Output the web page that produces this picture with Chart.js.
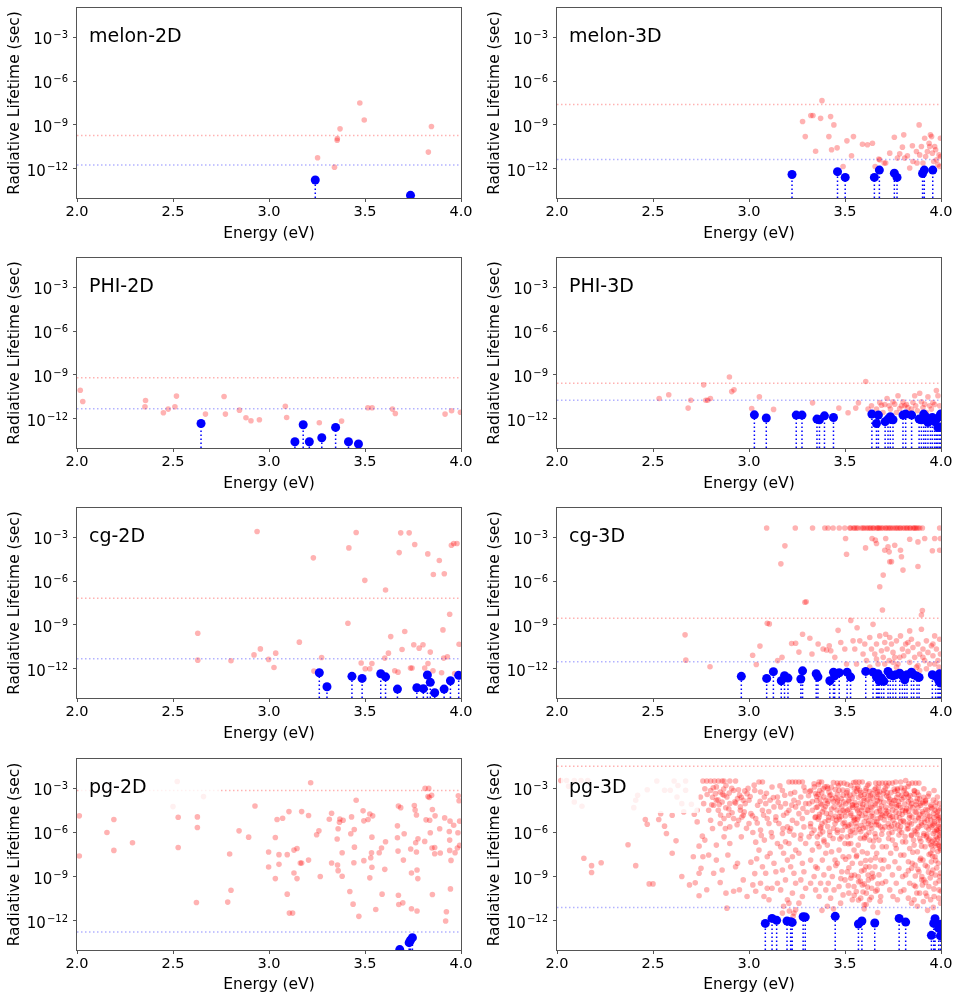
<!DOCTYPE html>
<html>
<head>
<meta charset="utf-8">
<script src="https://cdn.jsdelivr.net/npm/chart.js@4.4.1/dist/chart.umd.min.js"></script>
<style>
  body { margin: 0; background: #fff; width: 962px; height: 1001px; position: relative; overflow: hidden; }
  .cell { position: absolute; }
</style>
</head>
<body>
<script>
// values as log10(lifetime / s); energies in eV
const panelNames = ['melon-2D', 'melon-3D', 'PHI-2D', 'PHI-3D', 'cg-2D', 'cg-3D', 'pg-2D', 'pg-3D'];
const redLineLog  = [-9.73, -7.61, -9.20, -9.57, -7.18, -8.55, -3.14, -1.49];
const blueLineLog = [-11.75, -11.36, -11.32, -10.73, -11.32, -11.52, -12.77, -11.10];
const xTicks = [2.0, 2.5, 3.0, 3.5, 4.0];
const yTicks = [1e-12, 1e-9, 1e-6, 1e-3];
const yMin = 1e-14, yMax = 1e-1;

const melon2dRed = [[3.253,-11.25],[3.341,-11.89],[3.355,-10.05],[3.356,-9.93],[3.37,-9.27],[3.473,-7.5],[3.496,-8.66],[3.83,-10.86],[3.846,-9.11]];
const melon2dBlue = [[3.241,-12.77],[3.737,-13.82]];

const melon3dRed = [[3.279,-8.77],[3.293,-9.80],[3.322,-8.36],[3.333,-8.36],[3.347,-10.80],[3.373,-8.55],[3.38,-7.34],[3.416,-9.80],[3.425,-8.43],[3.43,-10.70],[3.442,-9.0],[3.459,-10.57],[3.49,-11.84],[3.51,-10.09],[3.534,-11.11],[3.544,-9.80],[3.591,-10.32],[3.617,-10.36],[3.643,-10.25],[3.657,-11.84],[3.676,-11.34],[3.681,-11.39],[3.704,-11.61],[3.712,-11.61],[3.733,-10.93],[3.757,-9.84],[3.773,-11.27],[3.785,-10.98],[3.799,-10.52],[3.806,-9.68],[3.811,-11.27],[3.825,-11.11],[3.837,-11.95],[3.851,-10.43],[3.854,-11.5],[3.872,-10.82],[3.875,-11.61],[3.886,-9.0],[3.889,-11.05],[3.898,-10.48],[3.906,-11.61],[3.915,-9.91],[3.92,-11.16],[3.929,-10.82],[3.938,-10.25],[3.941,-10.48],[3.945,-9.68],[3.951,-9.80],[3.955,-10.93],[3.962,-11.5],[3.967,-10.48],[3.972,-10.70],[3.977,-11.39],[3.984,-11.73],[3.99,-11.05],[3.993,-11.84],[3.997,-9.91],[3.998,-11.16]];
const melon3dBlue = [[3.224,-12.39],[3.461,-12.20],[3.501,-12.59],[3.653,-12.59],[3.679,-12.09],[3.757,-12.30],[3.771,-12.59],[3.904,-12.32],[3.913,-12.09],[3.957,-12.09]];

const phi2dRed = [[2.017,-10.05],[2.03,-10.82],[2.354,-11.18],[2.357,-10.75],[2.45,-11.59],[2.475,-11.34],[2.51,-11.18],[2.518,-10.45],[2.669,-11.68],[2.766,-10.48],[2.773,-11.68],[2.846,-11.41],[2.88,-11.93],[2.906,-12.14],[2.95,-12.07],[3.085,-11.14],[3.092,-11.91],[3.262,-12.27],[3.378,-12.16],[3.515,-11.25],[3.537,-11.25],[3.643,-11.34],[3.658,-11.64],[3.917,-11.68],[3.951,-11.45],[3.997,-11.55]];
const phi2dBlue = [[2.646,-12.32],[3.135,-13.57],[3.178,-12.41],[3.21,-13.57],[3.275,-13.30],[3.347,-12.59],[3.414,-13.57],[3.466,-13.73]];

const phi3dRed = [[2.532,-10.61],[2.582,-10.36],[2.683,-11.27],[2.697,-10.73],[2.764,-9.68],[2.775,-10.73],[2.785,-10.73],[2.799,-10.61],[2.898,-9.14],[2.91,-10.14],[2.922,-10.02],[3.014,-11.30],[3.054,-10.5],[3.128,-11.36],[3.331,-10.91],[3.468,-11.27],[3.516,-11.59],[3.556,-11.27],[3.57,-10.91],[3.608,-9.45],
  [3.62,-11.34],[3.638,-11.11],[3.664,-11.34],[3.681,-10.89],[3.69,-11.07],[3.698,-11.57],[3.707,-11.02],[3.719,-10.61],[3.73,-11.11],[3.737,-11.34],[3.75,-10.84],[3.759,-11.0],[3.768,-11.57],[3.776,-10.43],[3.785,-11.3],[3.794,-11.11],[3.802,-10.84],[3.811,-11.11],[3.82,-11.02],[3.828,-11.23],[3.837,-11.57],[3.846,-11.34],[3.854,-10.89],[3.863,-10.43],[3.868,-11.11],[3.877,-11.45],[3.889,-10.25],[3.898,-10.84],[3.906,-11.23],[3.915,-11.0],[3.924,-11.57],[3.932,-10.5],[3.941,-11.11],[3.95,-11.34],[3.958,-10.89],[3.967,-11.02],[3.976,-10.07],[3.984,-10.43],[3.993,-11.11],[3.998,-11.57]];
const phi3dBlue = [[3.028,-11.73],[3.09,-11.95],[3.246,-11.75],[3.276,-11.75],[3.354,-12.02],[3.367,-12.07],[3.393,-11.80],[3.44,-11.91],[3.64,-11.68],[3.664,-12.32],[3.674,-11.75],[3.709,-12.2],[3.724,-12.02],[3.736,-11.86],[3.75,-12.07],[3.802,-11.75],[3.816,-11.68],[3.847,-11.75],[3.886,-12.02],[3.898,-12.07],[3.91,-11.68],[3.92,-11.86],[3.932,-12.25],[3.945,-12.07],[3.955,-11.91],[3.967,-12.2],[3.976,-12.02],[3.984,-12.59],[3.993,-11.86],[3.998,-11.68]];

const cg2dRed = [[2.938,-2.61],[2.629,-9.57],[2.629,-11.41],[2.802,-11.45],[2.922,-11.05],[2.955,-10.64],[2.998,-11.36],[3.026,-11.91],[3.035,-10.93],[3.158,-10.18],[3.231,-4.41],[3.234,-12.16],[3.274,-11.23],[3.411,-8.89],[3.416,-3.73],[3.454,-2.68],[3.48,-11.61],[3.499,-5.95],[3.501,-12.0],[3.525,-12.0],[3.536,-11.64],[3.603,-11.27],[3.607,-6.61],[3.622,-10.93],[3.634,-9.80],[3.655,-12.14],[3.672,-12.23],[3.678,-4.05],[3.686,-2.70],[3.693,-10.68],[3.707,-9.45],[3.73,-2.70],[3.737,-11.95],[3.745,-11.95],[3.754,-10.36],[3.759,-3.5],[3.782,-10.59],[3.802,-10.36],[3.811,-11.95],[3.827,-4.14],[3.828,-11.64],[3.84,-10.86],[3.854,-12.14],[3.856,-5.55],[3.887,-4.59],[3.899,-12.27],[3.906,-9.34],[3.913,-5.5],[3.91,-11.27],[3.929,-11.18],[3.941,-8.27],[3.95,-3.55],[3.962,-3.43],[3.967,-12.32],[3.979,-3.43],[3.99,-10.32]];
const cg2dBlue = [[3.262,-12.27],[3.302,-13.23],[3.432,-12.52],[3.485,-12.66],[3.582,-12.34],[3.607,-12.55],[3.669,-13.39],[3.77,-13.30],[3.804,-13.36],[3.825,-12.43],[3.84,-12.93],[3.863,-13.64],[3.912,-13.39],[3.945,-12.82],[3.988,-12.45]];

const cg3dRed = [[3.092,-2.37],[3.241,-2.37],[3.331,-2.37],[3.395,-2.37],[3.412,-2.37],[3.438,-2.37],[3.47,-2.37],[3.499,-2.37],[3.525,-2.37],[3.551,-2.37],[3.568,-2.37],[3.594,-2.37],[3.612,-2.37],[3.629,-2.37],[3.646,-2.37],[3.664,-2.37],[3.681,-2.37],[3.698,-2.37],[3.716,-2.37],[3.733,-2.37],[3.75,-2.37],[3.768,-2.37],[3.785,-2.37],[3.802,-2.37],[3.82,-2.37],[3.837,-2.37],[3.854,-2.37],[3.872,-2.37],[3.889,-2.37],[3.903,-2.37],[3.993,-2.37],
  [3.53,-2.37],[3.56,-2.37],[3.60,-2.37],[3.62,-2.37],[3.65,-2.37],[3.67,-2.37],[3.69,-2.37],[3.71,-2.37],[3.74,-2.37],[3.76,-2.37],[3.79,-2.37],[3.81,-2.37],[3.84,-2.37],[3.86,-2.37],[3.88,-2.37],
  [3.545,-2.37],[3.585,-2.37],[3.635,-2.37],[3.675,-2.37],[3.725,-2.37],[3.775,-2.37],[3.825,-2.37],[3.865,-2.37],
  [3.503,-3.09],[3.508,-4.16],[3.607,-3.73],[3.641,-3.09],[3.658,-3.2],[3.664,-3.43],[3.707,-3.89],[3.712,-3.09],[3.724,-3.66],[3.733,-4.68],[3.759,-3.55],[3.789,-3.89],[3.802,-5.25],[3.794,-4.34],[3.837,-3.14],[3.88,-5.0],[3.88,-3.32],[3.915,-3.09],[3.955,-3.93],[3.967,-3.09],[3.993,-3.89],[3.997,-3.09],[3.187,-3.59],[3.166,-4.82],[3.106,-8.93],[3.291,-7.45],[3.298,-7.41],[3.681,-6.39],[3.695,-7.98],[3.699,-5.59],[3.903,-8.02],[3.898,-8.32],[3.73,-4.0],[3.742,-4.67],
  [2.667,-9.68],[2.671,-11.41],[2.797,-11.86],[3.095,-8.89],[3.019,-11.08],[3.057,-10.45],[3.038,-11.71],[3.149,-11.44],[3.172,-11.22],[3.222,-10.27],[3.243,-10.25],[3.26,-10.86],[3.279,-9.64],[3.317,-9.91],[3.328,-10.99],[3.36,-10.31],[3.386,-10.65],[3.404,-10.72],[3.418,-10.43],[3.426,-10.77],[3.447,-11.22],[3.464,-9.37],[3.478,-10.2],[3.499,-10.65],[3.508,-11.67],[3.53,-8.69],[3.542,-10.09],[3.551,-10.65],[3.563,-9.19],[3.577,-10.09],[3.594,-10.99],[3.603,-10.31],[3.612,-11.44],[3.629,-9.86],[3.638,-10.65],[3.646,-8.96],[3.655,-10.99],[3.664,-10.31],[3.672,-11.67],[3.681,-9.75],[3.69,-10.77],[3.699,-11.22],[3.707,-10.2],[3.712,-9.64],[3.719,-10.65],[3.73,-11.44],[3.742,-10.31],[3.75,-10.88],[3.759,-11.22],[3.768,-10.09],[3.776,-11.67],[3.789,-9.75],[3.799,-10.65],[3.806,-11.11],[3.816,-10.31],[3.828,-10.81],[3.837,-11.56],[3.846,-9.98],[3.854,-10.54],[3.863,-11.22],[3.872,-11.89],[3.88,-10.31],[3.889,-10.99],[3.898,-9.3],[3.906,-10.65],[3.915,-11.44],[3.924,-10.09],[3.932,-10.88],[3.941,-11.67],[3.95,-10.43],[3.958,-11.11],[3.967,-9.75],[3.976,-10.65],[3.984,-11.44],[3.993,-9.98],[3.997,-10.99],[3.99,-11.89],
  [3.56,-11.67],[3.629,-11.89],[3.664,-11.33],[3.768,-11.89],[3.889,-12.12],[3.785,-11.22],[3.733,-9.86],[3.837,-9.41],[3.75,-11.56],[3.88,-11.78],[3.924,-12.0],[3.958,-10.31],[3.707,-11.67],[3.828,-10.2],[3.906,-11.22],[3.967,-11.67]];
const cg3dBlue = [[2.96,-12.52],[3.092,-12.66],[3.127,-12.2],[3.168,-12.82],[3.185,-12.48],[3.203,-12.64],[3.27,-12.7],[3.279,-12.14],[3.35,-12.34],[3.359,-12.55],[3.421,-12.82],[3.44,-12.23],[3.446,-12.48],[3.47,-12.27],[3.511,-12.23],[3.529,-12.57],[3.608,-12.18],[3.646,-12.23],[3.664,-12.57],[3.672,-12.34],[3.678,-12.82],[3.69,-12.64],[3.702,-12.86],[3.724,-12.18],[3.736,-12.41],[3.75,-12.48],[3.764,-12.41],[3.785,-12.3],[3.799,-12.48],[3.811,-12.75],[3.823,-12.41],[3.846,-12.23],[3.858,-12.41],[3.875,-12.52],[3.886,-12.59],[3.955,-12.41],[3.972,-12.52],[3.984,-12.64],[3.99,-12.86],[3.993,-12.34],[3.997,-12.98]];

const pg2dRed = [[2.012,-4.87],[2.012,-7.6],[2.156,-6.0],[2.192,-5.12],[2.192,-7.22],[2.289,-6.70],[2.50,-4.24],[2.522,-2.53],[2.527,-4.96],[2.527,-7.02],[2.622,-10.77],[2.627,-4.94],[2.627,-5.66],[2.659,-3.56],[2.785,-10.74],[2.795,-7.47],[2.802,-9.93],[2.844,-5.89],[2.894,-6.32],[2.927,-4.20],[2.998,-7.33],[2.998,-8.35],[3.033,-9.14],[3.033,-6.34],[3.042,-5.12],[3.052,-7.51],[3.052,-8.17],[3.071,-5.03],[3.095,-10.20],[3.095,-7.51],[3.104,-4.58],[3.106,-11.49],[3.123,-11.49],[3.13,-8.76],[3.13,-7.2],[3.146,-9.14],[3.146,-7.09],[3.163,-8.08],[3.17,-8.08],[3.17,-4.58],[3.206,-7.88],[3.206,-4.85],[3.217,-2.62],[3.248,-6.16],[3.26,-5.89],[3.267,-9.0],[3.314,-5.10],[3.326,-4.69],[3.326,-8.08],[3.355,-6.45],[3.357,-8.21],[3.36,-5.75],[3.36,-8.6],[3.367,-5.30],[3.369,-5.08],[3.381,-7.38],[3.386,-5.17],[3.381,-8.98],[3.421,-10.02],[3.426,-6.09],[3.43,-4.94],[3.438,-10.88],[3.442,-8.06],[3.444,-5.80],[3.445,-7.0],[3.454,-3.81],[3.468,-11.71],[3.49,-4.53],[3.494,-7.92],[3.494,-5.21],[3.516,-5.12],[3.525,-9.09],[3.525,-4.74],[3.53,-7.72],[3.536,-6.32],[3.536,-8.37],[3.54,-4.87],[3.534,-7.38],[3.556,-11.24],[3.574,-7.38],[3.586,-7.06],[3.589,-10.2],[3.603,-8.51],[3.607,-6.63],[3.669,-5.55],[3.669,-6.36],[3.672,-7.27],[3.674,-10.27],[3.676,-10.90],[3.674,-4.20],[3.686,-4.31],[3.697,-10.79],[3.70,-7.88],[3.704,-6.09],[3.738,-7.13],[3.742,-8.76],[3.742,-11.19],[3.757,-4.17],[3.761,-4.47],[3.764,-6.70],[3.768,-4.81],[3.768,-7.33],[3.771,-8.55],[3.771,-11.35],[3.775,-9.14],[3.776,-6.43],[3.811,-6.61],[3.813,-3.0],[3.818,-5.14],[3.828,-3.56],[3.832,-3.0],[3.835,-3.61],[3.837,-5.17],[3.84,-6.02],[3.847,-3.47],[3.849,-7.06],[3.851,-4.44],[3.851,-10.22],[3.863,-7.02],[3.863,-7.45],[3.865,-4.87],[3.889,-5.75],[3.892,-7.40],[3.915,-5.01],[3.924,-11.40],[3.92,-12.03],[3.939,-5.93],[3.941,-6.52],[3.941,-7.22],[3.943,-5.23],[3.945,-9.84],[3.948,-7.90],[3.962,-5.51],[3.969,-7.38],[3.981,-7.06],[3.984,-6.02],[3.986,-3.50],[3.99,-3.84],[3.993,-5.23],[3.993,-6.88]];
const pg2dBlue = [[3.681,-13.97],[3.73,-13.5],[3.737,-13.34],[3.747,-13.16]];

const pg3dRed = [
  [2.02,-2.46],[2.05,-2.46],[2.06,-2.86],[2.09,-2.46],[2.09,-3.93],[2.125,-2.46],[2.13,-4.22],[2.16,-2.46],[2.14,-7.76],[2.18,-8.26],[2.18,-8.73],[2.23,-8.06],[2.37,-6.84],[2.41,-8.26],[2.40,-4.31],[2.41,-3.81],[2.42,-3.47],[2.47,-3.09],[2.46,-5.12],[2.47,-5.44],[2.48,-9.5],[2.50,-9.5],[2.52,-2.5],[2.53,-5.12],[2.54,-4.72],[2.56,-3.13],[2.56,-5.57],[2.57,-6.07],[2.59,-3.13],[2.60,-4.83],[2.60,-7.42],[2.61,-2.5],[2.62,-6.57],[2.625,-3.59],[2.63,-2.8],[2.65,-4.04],[2.65,-9.0],[2.66,-4.6],[2.67,-3.13],[2.67,-2.5],[2.69,-9.57],[2.70,-4.08],[2.71,-7.65],[2.715,-4.76],[2.72,-9.43],[2.73,-5.28],[2.74,-6.93],[2.74,-10.31],[2.74,-8.78],[2.75,-8.44],[2.757,-6.25],[2.76,-7.65],[2.77,-6.52],[2.78,-9.9],[2.79,-7.53],[2.80,-5.17],[2.81,-5.73],[2.816,-8.78],[2.83,-6.86],[2.83,-7.88],[2.85,-9.41],[2.86,-8.55],[2.87,-6.3],[2.88,-10.13],[2.885,-11.15],[2.89,-7.53],[2.90,-6.75],[2.92,-10.0],[2.93,-8.33],[2.94,-8.1],[2.95,-9.9],[2.955,-4.49],[2.96,-6.3],[2.97,-9.23],[2.98,-4.04],[2.99,-10.36],
  [2.80,-3.14],[2.825,-3.36],[2.85,-3.25],[2.87,-3.47],[2.83,-3.81],[2.86,-3.93],[2.885,-3.59],[2.90,-4.04],[2.92,-3.14],[2.94,-3.70],[2.955,-4.26],[2.97,-3.81],[2.99,-3.36],[2.816,-4.15],[2.79,-4.49],[2.84,-4.49],[2.87,-5.05],[2.894,-4.83],[2.92,-5.05],[2.946,-5.17],[2.97,-4.83],[3.0,-5.39],[2.90,-5.62],[2.877,-5.73],[2.85,-5.39],[2.764,-4.04],[2.73,-4.49],[2.747,-3.59],[2.77,-3.02],
  [2.76,-2.5],[2.78,-2.5],[2.80,-2.5],[2.82,-2.5],[2.84,-2.5],[2.86,-2.5],[2.87,-2.5],[2.90,-2.5],[2.93,-2.5],
  [3.00,-3.81],[3.01,-4.72],[3.03,-3.14],[3.02,-6.0],[3.035,-6.66],[3.04,-7.79],[3.01,-8.02],[3.03,-8.80],[3.02,-9.57],[3.035,-10.0],[3.045,-4.15],[3.035,-5.05],
  [3.052,-2.57],[3.07,-2.57],[3.06,-3.25],[3.08,-3.59],[3.07,-4.49],[3.087,-4.04],[3.095,-5.05],[3.06,-5.84],[3.08,-6.52],[3.052,-7.2],[3.095,-7.65],[3.07,-8.33],[3.087,-8.78],[3.06,-9.46],[3.095,-9.8],[3.078,-10.36],
  [3.12,-2.91],[3.11,-3.81],[3.13,-4.26],[3.148,-3.59],[3.14,-4.94],[3.104,-5.39],[3.12,-6.3],[3.148,-6.75],[3.11,-7.42],[3.13,-8.1],[3.14,-8.67],[3.12,-9.8],[3.148,-9.46],[3.104,-10.58],
  [3.174,-3.14],[3.165,-4.26],[3.19,-4.04],[3.18,-4.83],[3.156,-5.39],[3.2,-5.62],[3.174,-6.07],[3.19,-6.64],[3.165,-6.97],[3.18,-7.42],[3.2,-7.88],[3.174,-8.55],[3.19,-9.23],[3.165,-9.91],[3.2,-10.58],[3.18,-11.03],[3.174,-11.49],
  [3.208,-2.57],[3.226,-2.57],[3.243,-2.57],[3.217,-3.36],[3.234,-3.81],[3.208,-4.49],[3.243,-4.26],[3.226,-5.17],[3.217,-5.73],[3.234,-6.18],[3.208,-6.75],[3.243,-7.2],[3.226,-7.65],[3.217,-8.33],[3.234,-8.78],[3.243,-9.46],[3.226,-10.13],[3.208,-10.81],[3.243,-11.26],[3.234,-11.49],
  [3.26,-2.57],[3.278,-2.57],[3.286,-2.91],[3.27,-3.59],[3.295,-4.04],[3.26,-4.72],[3.278,-5.05],[3.286,-5.62],[3.27,-6.18],[3.295,-6.75],[3.26,-7.42],[3.278,-8.1],[3.286,-8.67],[3.27,-9.23],[3.295,-9.8],[3.278,-10.36],[3.26,-10.81],
  [3.321,-3.14],[3.339,-2.68],[3.347,-3.36],[3.313,-4.04],[3.33,-4.49],[3.347,-4.94],[3.321,-5.39],[3.339,-5.84],[3.313,-6.3],[3.356,-6.75],[3.33,-7.2],[3.321,-7.88],[3.347,-8.33],[3.339,-9.0],[3.321,-9.46],[3.347,-9.91],
  [3.365,-2.57],[3.378,-2.57],[3.368,-3.14],[3.39,-3.59],[3.373,-4.04],[3.4,-3.81],[3.356,-4.26],[3.382,-4.6],[3.365,-4.94],[3.396,-5.28],[3.373,-5.73],[3.356,-6.3],[3.39,-6.52],[3.365,-6.97],[3.4,-7.42],[3.382,-7.88],[3.356,-8.44],[3.39,-8.89],[3.373,-9.46],[3.4,-9.91],[3.365,-10.36],
  [3.417,-3.25],[3.434,-3.7],[3.408,-4.04],[3.443,-4.26],[3.425,-4.72],[3.413,-5.17],[3.448,-5.39],[3.42,-5.95],[3.438,-6.41],[3.408,-6.86],[3.43,-7.31],[3.448,-7.88],[3.417,-8.44],[3.434,-9.0],[3.413,-9.46],[3.443,-9.91],[3.425,-10.47],[3.408,-11.03],
  [3.46,-2.64],[3.477,-2.64],[3.495,-2.64],[3.469,-3.14],[3.49,-3.47],[3.46,-3.93],[3.483,-4.26],[3.5,-4.6],[3.469,-4.94],[3.49,-5.39],[3.46,-5.84],[3.483,-6.3],[3.5,-6.75],[3.469,-7.2],[3.49,-7.65],[3.46,-8.1],[3.483,-8.67],[3.5,-9.23],[3.469,-9.68],[3.49,-10.25],[3.477,-10.81],
  [3.512,-3.14],[3.53,-2.8],[3.547,-3.36],[3.52,-3.81],[3.538,-4.15],[3.512,-4.49],[3.53,-4.83],[3.547,-5.17],[3.52,-5.5],[3.538,-5.84],[3.512,-6.3],[3.53,-6.75],[3.547,-7.2],[3.52,-7.65],[3.538,-8.1],[3.512,-8.67],[3.53,-9.12],[3.547,-9.68],[3.52,-10.13],[3.538,-10.58],
  [3.556,-2.57],[3.573,-2.57],[3.59,-2.57],[3.564,-3.02],[3.582,-3.47],[3.6,-3.81],[3.559,-4.15],[3.587,-4.49],[3.569,-4.94],[3.6,-5.28],[3.559,-5.62],[3.582,-5.95],[3.6,-6.41],[3.569,-6.86],[3.59,-7.31],[3.559,-7.65],[3.582,-8.1],[3.6,-8.55],[3.569,-9.0],[3.59,-9.57],[3.559,-10.02],[3.582,-10.47],[3.6,-10.92],
  [3.608,-3.14],[3.625,-2.68],[3.642,-3.36],[3.616,-3.81],[3.634,-4.26],[3.608,-4.72],[3.646,-4.94],[3.622,-5.39],[3.639,-5.73],[3.611,-6.18],[3.628,-6.52],[3.646,-6.97],[3.616,-7.42],[3.634,-7.88],[3.608,-8.33],[3.642,-8.78],[3.622,-9.23],[3.639,-9.8],[3.611,-10.13],[3.628,-10.58],
  [3.66,-2.64],[3.677,-2.64],[3.694,-2.64],[3.668,-3.25],[3.686,-3.7],[3.656,-4.04],[3.68,-4.38],[3.694,-4.83],[3.665,-5.28],[3.686,-5.62],[3.656,-6.07],[3.677,-6.52],[3.694,-6.97],[3.665,-7.42],[3.686,-7.88],[3.656,-8.33],[3.677,-8.89],[3.694,-9.46],[3.668,-9.91],[3.686,-10.36],
  [3.712,-2.64],[3.729,-2.64],[3.747,-2.64],[3.703,-3.14],[3.726,-3.59],[3.743,-4.04],[3.712,-4.49],[3.733,-4.83],[3.75,-5.17],[3.708,-5.62],[3.729,-6.07],[3.747,-6.52],[3.715,-6.97],[3.738,-7.42],[3.703,-7.88],[3.726,-8.33],[3.747,-8.89],[3.712,-9.34],[3.733,-9.91],[3.75,-10.36],
  [3.764,-2.57],[3.79,-2.57],[3.773,-3.02],[3.795,-3.47],[3.76,-3.81],[3.781,-4.15],[3.8,-4.49],[3.767,-4.94],[3.79,-5.28],[3.76,-5.73],[3.781,-6.18],[3.8,-6.64],[3.767,-7.09],[3.79,-7.54],[3.76,-7.99],[3.781,-8.44],[3.8,-9.0],[3.767,-9.46],[3.79,-10.02],[3.773,-10.58],
  [3.816,-2.46],[3.833,-2.68],[3.85,-2.64],[3.807,-3.14],[3.83,-3.59],[3.847,-4.04],[3.816,-4.49],[3.837,-4.83],[3.807,-5.28],[3.83,-5.73],[3.847,-6.18],[3.816,-6.64],[3.837,-7.09],[3.807,-7.54],[3.83,-7.99],[3.847,-8.44],[3.816,-8.89],[3.837,-9.46],[3.807,-9.91],[3.83,-10.47],[3.847,-10.81],
  [3.868,-2.64],[3.885,-2.64],[3.86,-3.14],[3.877,-3.7],[3.894,-4.15],[3.865,-4.6],[3.885,-5.05],[3.9,-5.5],[3.868,-5.95],[3.889,-6.41],[3.86,-6.86],[3.877,-7.31],[3.894,-7.76],[3.865,-8.22],[3.885,-8.67],[3.9,-9.23],[3.868,-9.68],[3.889,-10.13],[3.86,-10.58],[3.877,-11.03],
  [3.911,-3.02],[3.937,-3.36],[3.92,-3.81],[3.946,-4.26],[3.906,-4.72],[3.929,-5.17],[3.951,-5.62],[3.911,-6.07],[3.934,-6.52],[3.917,-6.97],[3.946,-7.42],[3.906,-7.88],[3.929,-8.33],[3.951,-8.78],[3.911,-9.23],[3.937,-9.68],[3.92,-10.13],[3.946,-10.58],
  [3.964,-3.14],[3.981,-3.59],[3.993,-4.04],[3.969,-4.49],[3.986,-4.83],[3.998,-5.17],[3.958,-5.5],[3.976,-5.84],[3.993,-6.18],[3.964,-6.52],[3.986,-6.86],[3.998,-7.2],[3.969,-7.65],[3.986,-8.1],[3.958,-8.55],[3.993,-9.0],[3.972,-9.46],[3.99,-9.91],[3.964,-10.36],[3.998,-10.81],
  [3.31,-3.5],[3.33,-3.9],[3.35,-4.3],[3.32,-5.6],[3.34,-2.9],
  [3.36,-3.4],[3.37,-3.7],[3.38,-4.1],[3.39,-4.4],[3.36,-5.1],[3.38,-5.4],[3.395,-2.9],[3.37,-6.1],
  [3.41,-3.0],[3.42,-3.5],[3.44,-3.9],[3.43,-4.4],[3.45,-4.9],[3.41,-5.6],[3.44,-2.6],
  [3.46,-3.4],[3.48,-3.7],[3.47,-4.1],[3.49,-4.5],[3.47,-5.1],[3.5,-5.6],[3.46,-6.0],
  [3.51,-3.5],[3.52,-3.9],[3.54,-4.3],[3.53,-4.7],[3.55,-5.1],[3.515,-5.6],[3.545,-2.6],[3.53,-6.2],
  [3.56,-3.2],[3.57,-3.6],[3.58,-4.0],[3.59,-4.3],[3.575,-4.7],[3.565,-5.1],[3.595,-5.7],[3.58,-6.4],
  [3.61,-3.0],[3.62,-3.5],[3.63,-3.9],[3.64,-4.3],[3.62,-4.5],[3.61,-5.0],[3.635,-5.5],[3.625,-6.0],
  [3.66,-3.0],[3.67,-3.4],[3.68,-3.9],[3.69,-4.2],[3.665,-4.6],[3.685,-5.0],[3.675,-5.5],[3.66,-6.3],
  [3.71,-3.0],[3.72,-3.3],[3.73,-3.9],[3.74,-4.2],[3.715,-4.7],[3.735,-5.0],[3.725,-5.4],[3.745,-6.0],
  [3.76,-3.2],[3.77,-3.6],[3.78,-3.9],[3.79,-4.3],[3.765,-4.6],[3.785,-5.0],[3.775,-5.5],[3.795,-6.0],
  [3.81,-3.0],[3.82,-3.4],[3.83,-3.9],[3.84,-4.2],[3.815,-4.6],[3.835,-5.0],[3.825,-5.5],[3.845,-6.2],
  [3.86,-3.4],[3.87,-3.9],[3.88,-4.3],[3.89,-4.8],[3.865,-5.2],[3.885,-5.6],[3.875,-6.1],[3.895,-6.6],
  [3.91,-3.6],[3.92,-4.0],[3.93,-4.5],[3.94,-4.9],[3.915,-5.3],[3.935,-5.8],[3.925,-6.3],[3.945,-6.8],
  [3.96,-3.8],[3.97,-4.2],[3.98,-4.6],[3.99,-5.0],[3.965,-5.4],[3.985,-5.9],[3.975,-6.3],[3.995,-6.7],[3.99,-5.6],[3.97,-6.9],
  [3.52,-8.4],[3.55,-8.9],[3.58,-9.3],[3.6,-9.5],[3.62,-8.9],[3.64,-9.1],[3.66,-10.0],[3.57,-10.6],[3.61,-10.9],[3.85,-8.1],[3.88,-8.5],[3.9,-9.0],[3.92,-9.4],[3.95,-8.0],[3.97,-8.9],[3.99,-9.3],[4.0,-10.0],[3.86,-9.6],[3.83,-8.6],
  [3.302,-4.62],[3.318,-3.21],[3.327,-6.05],[3.344,-4.98],[3.352,-3.55],[3.361,-2.75],[3.374,-5.62],[3.386,-3.02],[3.391,-6.63],[3.403,-4.71],[3.412,-3.87],[3.421,-6.21],[3.429,-2.93],[3.437,-5.03],[3.452,-3.63],[3.458,-4.47],[3.466,-2.81],[3.473,-6.45],[3.481,-4.92],[3.488,-3.12],[3.497,-5.31],[3.504,-4.05],[3.511,-2.72],[3.518,-6.77],[3.526,-3.46],[3.533,-5.42],[3.541,-4.12],[3.549,-3.01],[3.553,-6.01],[3.562,-4.38],[3.567,-2.85],[3.574,-5.78],[3.583,-3.28],[3.588,-4.84],[3.597,-3.67],[3.603,-6.32],[3.612,-4.16],[3.618,-2.79],[3.624,-5.21],[3.633,-3.52],[3.641,-4.66],[3.648,-6.58],[3.653,-3.09],[3.662,-5.47],[3.669,-3.83],[3.674,-2.91],[3.683,-4.52],[3.691,-6.12],[3.698,-3.36],[3.704,-5.14],[3.713,-4.29],[3.719,-2.83],[3.727,-6.41],[3.734,-3.72],[3.741,-5.56],[3.748,-4.48],[3.756,-3.05],[3.762,-6.84],[3.769,-4.11],[3.777,-3.42],[3.784,-5.83],[3.792,-2.96],[3.798,-4.76],[3.806,-3.63],[3.813,-6.27],[3.821,-4.38],[3.828,-2.87],[3.836,-5.34],[3.842,-3.81],[3.849,-4.95],[3.857,-6.52],[3.863,-3.18],[3.871,-4.63],[3.878,-5.71],[3.884,-3.45],[3.893,-4.02],[3.899,-6.93],[3.906,-3.98],[3.914,-5.07],[3.921,-4.43],[3.927,-6.16],[3.933,-3.54],[3.942,-5.49],[3.948,-4.14],[3.954,-6.62],[3.961,-4.71],[3.968,-5.93],[3.974,-3.94],[3.981,-6.45],[3.987,-5.12],[3.994,-7.08],[3.999,-4.36],[3.996,-6.0],[3.983,-7.3],[3.957,-7.2],[3.938,-7.5],
  [2.782,-3.42],[2.806,-4.12],[2.814,-2.96],[2.838,-3.77],[2.852,-4.81],[2.868,-3.05],[2.879,-4.32],[2.897,-3.31],[2.912,-4.66],[2.926,-3.92],[2.938,-5.48],[2.951,-3.46],[2.963,-4.95],[2.978,-3.17],[2.987,-5.72],[3.006,-3.55],[3.018,-4.87],[3.027,-2.78],[3.043,-5.36],[3.058,-3.88],[3.064,-6.2],[3.076,-4.82],[3.091,-3.33],[3.103,-4.57],[3.116,-6.01],[3.127,-3.62],[3.139,-5.17],[3.152,-3.95],[3.161,-2.83],[3.177,-5.74],[3.186,-3.47],[3.197,-4.67],[3.211,-5.91],[3.223,-4.14],[3.238,-3.26],[3.249,-5.38],[3.257,-3.97],[3.268,-6.45],[3.281,-4.37],[3.293,-3.18],
  [3.452,-8.25],[3.478,-9.14],[3.503,-7.82],[3.517,-9.62],[3.534,-8.91],[3.548,-10.27],[3.561,-7.56],[3.571,-9.35],[3.586,-8.63],[3.594,-10.05],[3.607,-7.91],[3.617,-9.72],[3.627,-8.34],[3.637,-10.41],[3.648,-9.02],[3.659,-7.73],[3.671,-9.49],[3.683,-10.68],[3.696,-8.47],[3.853,-7.35],[3.866,-8.96],[3.874,-10.12],[3.891,-7.88],[3.903,-9.58],[3.918,-8.23],[3.926,-10.33],[3.944,-9.09],[3.956,-7.62],[3.963,-9.84],[3.978,-8.41],[3.988,-10.47],[3.997,-8.77],[3.972,-7.9],[3.935,-8.7],[3.908,-10.7],
  [3.21,-11.35],[3.23,-11.7],[3.38,-11.3],[3.44,-11.2],[3.60,-11.2],[3.67,-11.45],[3.93,-11.3],[3.96,-11.1],
  [3.353,-3.83],[3.367,-4.77],[3.379,-3.31],[3.384,-5.96],[3.398,-4.23],[3.407,-2.87],[3.415,-4.96],[3.426,-3.44],[3.441,-5.71],[3.449,-3.08],[3.456,-5.18],[3.463,-3.77],[3.474,-4.63],[3.486,-5.87],[3.493,-3.92],[3.502,-4.88],[3.509,-3.29],[3.521,-4.41],[3.528,-5.93],[3.537,-3.66],[3.544,-4.99],[3.552,-3.97],[3.558,-5.35],[3.566,-4.52],[3.577,-3.13],[3.584,-5.53],[3.593,-4.09],[3.601,-3.42],[3.609,-5.66],[3.616,-4.47],[3.627,-3.21],[3.636,-4.89],[3.644,-3.68],[3.651,-5.27],[3.658,-4.13],[3.666,-3.58],[3.672,-5.06],[3.681,-3.24],[3.688,-4.74],[3.695,-5.81],[3.702,-3.95],[3.709,-4.87],[3.717,-3.51],[3.724,-4.58],[3.731,-5.67],[3.739,-3.29],[3.746,-4.92],[3.753,-3.83],[3.759,-5.39],[3.767,-4.26],[3.774,-3.12],[3.782,-4.69],[3.789,-5.61],[3.796,-3.74],[3.803,-5.21],[3.811,-4.07],[3.818,-3.33],[3.824,-5.77],[3.832,-4.54],[3.839,-3.48],[3.846,-5.42],[3.853,-4.31],[3.861,-5.86],[3.869,-4.12],[3.876,-3.26],[3.882,-4.97],[3.889,-3.72],[3.897,-5.35],[3.903,-4.58],[3.91,-6.21],[3.918,-3.87],[3.924,-5.62],[3.931,-4.83],[3.939,-6.44],[3.946,-5.14],[3.952,-4.36],[3.959,-6.07],[3.966,-5.28],[3.973,-6.73],[3.979,-4.88],[3.986,-5.47],[3.992,-6.33],[3.998,-5.71],[3.995,-6.95],[3.988,-4.5],[3.979,-5.8],[3.963,-5.0],[3.951,-6.9],
  [2.81,-3.6],[2.83,-2.9],[2.845,-4.1],[2.862,-3.4],[2.88,-2.8],[2.895,-4.4],[2.91,-3.0],[2.93,-4.0],[2.945,-3.1],[2.96,-3.6],[2.975,-4.6],[2.995,-3.0]];
const pg3dBlue = [[3.085,-12.19],[3.12,-11.85],[3.144,-11.98],[3.198,-12.03],[3.217,-12.07],[3.225,-12.12],[3.282,-11.74],[3.293,-11.76],[3.449,-11.71],[3.57,-12.23],[3.588,-12.03],[3.655,-12.16],[3.782,-11.85],[3.816,-12.10],[3.95,-13.0],[3.962,-12.19],[3.969,-11.87],[3.988,-12.53],[3.997,-13.04],[4.0,-12.25]];

const redSets  = [melon2dRed, melon3dRed, phi2dRed, phi3dRed, cg2dRed, cg3dRed, pg2dRed, pg3dRed];
const blueSets = [melon2dBlue, melon3dBlue, phi2dBlue, phi3dBlue, cg2dBlue, cg3dBlue, pg2dBlue, pg3dBlue];

function toPts(arr) { return arr.map(p => ({x: p[0], y: Math.pow(10, p[1])})); }
function stemPts(arr) {
  const out = [];
  arr.forEach(p => { out.push({x: p[0], y: yMin}, {x: p[0], y: Math.pow(10, p[1])}, {x: p[0], y: null}); });
  return out;
}

// frame round the axes, power-of-ten tick labels, and the panel name in a half-clear white box
const framePlugin = {
  id: 'frame',
  afterDatasetsDraw(chart, args, opts) {
    const ctx = chart.ctx, a = chart.chartArea;
    ctx.save();
    ctx.font = '19px "DejaVu Sans"';
    const w = ctx.measureText(opts.title).width;
    ctx.fillStyle = 'rgba(255,255,255,0.8)';
    ctx.fillRect(a.left + 4, a.top + 9, w + 80, 45);
    ctx.fillStyle = '#000';
    ctx.textBaseline = 'middle';
    ctx.fillText(opts.title, a.left + 12, a.top + 29);
    ctx.strokeStyle = '#555';
    ctx.lineWidth = 1;
    const l = Math.round(a.left) - 0.5, t = Math.round(a.top) - 0.5;
    ctx.strokeRect(l, t, Math.round(a.right) - Math.round(a.left) + 1, Math.round(a.bottom) - Math.round(a.top) + 1);

    const ys = chart.scales.y;
    ctx.textBaseline = 'alphabetic';
    ctx.textAlign = 'left';
    yTicks.forEach(v => {
      const py = ys.getPixelForValue(v);
      const e = String(Math.round(Math.log10(v))).replace('-', '\u2212');
      ctx.font = '10px "DejaVu Sans"';
      const ew = ctx.measureText(e).width;
      ctx.font = '15px "DejaVu Sans"';
      const bw = ctx.measureText('10').width;
      const right = a.left - 9;
      ctx.fillText('10', right - ew - bw - 1, py + 7);
      ctx.font = '10px "DejaVu Sans"';
      ctx.fillText(e, right - ew, py + 1);
    });
    ctx.restore();
  }
};

const tickFont = {family: 'DejaVu Sans', size: 14.5};
const labelFont = {family: 'DejaVu Sans', size: 15.5};

panelNames.forEach((name, i) => {
  const col = i % 2, row = Math.floor(i / 2);
  const w = col ? 482 : 480;
  const h = row === 3 ? 251 : 250;
  const padTop = row === 3 ? 9 : 8;
  const xH = row === 3 ? 51 : 52;
  const div = document.createElement('div');
  div.className = 'cell';
  div.style.left = (col * 480) + 'px';
  div.style.top = (row * 250) + 'px';
  div.style.width = w + 'px';
  div.style.height = h + 'px';
  const cv = document.createElement('canvas');
  div.appendChild(cv);
  document.body.appendChild(div);

  const dash = [1.5, 2.5];
  new Chart(cv, {
    type: 'scatter',
    data: {
      datasets: [
        {data: toPts(blueSets[i]), pointRadius: 4.5, backgroundColor: '#0000ff', borderWidth: 0, order: 1},
        {data: stemPts(blueSets[i]), showLine: true, spanGaps: false, pointRadius: 0, borderColor: '#0000ff', borderWidth: 1.5, borderDash: dash, order: 2},
        {data: [{x: 2, y: Math.pow(10, blueLineLog[i])}, {x: 4, y: Math.pow(10, blueLineLog[i])}], showLine: true, pointRadius: 0, borderColor: 'rgba(0,0,255,0.3)', borderWidth: 1.5, borderDash: dash, order: 3},
        {data: [{x: 2, y: Math.pow(10, redLineLog[i])}, {x: 4, y: Math.pow(10, redLineLog[i])}], showLine: true, pointRadius: 0, borderColor: 'rgba(255,0,0,0.3)', borderWidth: 1.5, borderDash: dash, order: 3},
        {data: toPts(redSets[i]), pointRadius: 2.8, backgroundColor: 'rgba(255,0,0,0.3)', borderWidth: 0, order: 4}
      ]
    },
    options: {
      responsive: true,
      maintainAspectRatio: false,
      animation: false,
      events: [],
      layout: {padding: {left: 0, top: padTop, right: w - 461, bottom: 0}},
      plugins: {legend: {display: false}, tooltip: {enabled: false}, frame: {title: name}},
      scales: {
        x: {
          type: 'linear', min: 2, max: 4,
          afterBuildTicks: s => { s.ticks = xTicks.map(v => ({value: v})); },
          afterFit: s => { s.height = xH; s.paddingLeft = 0; s.paddingRight = 0; },
          ticks: {callback: v => v.toFixed(1), font: tickFont, color: '#000', padding: 2, maxRotation: 0, autoSkip: false},
          grid: {drawOnChartArea: false, drawTicks: true, tickLength: 4, color: '#555'},
          border: {display: false},
          title: {display: true, text: 'Energy (eV)', font: labelFont, color: '#000', padding: {top: 0, bottom: 7}}
        },
        y: {
          type: 'logarithmic', min: yMin, max: yMax,
          afterBuildTicks: s => { s.ticks = yTicks.map(v => ({value: v})); },
          afterFit: s => { s.width = 77; s.paddingTop = 0; s.paddingBottom = 0; },
          ticks: {display: false},
          grid: {drawOnChartArea: false, drawTicks: true, tickLength: 4, color: '#555'},
          border: {display: false},
          title: {display: true, text: 'Radiative Lifetime (sec)', font: labelFont, color: '#000', padding: {top: 6, bottom: 0}}
        }
      }
    },
    plugins: [framePlugin]
  });
});
</script>
</body>
</html>
